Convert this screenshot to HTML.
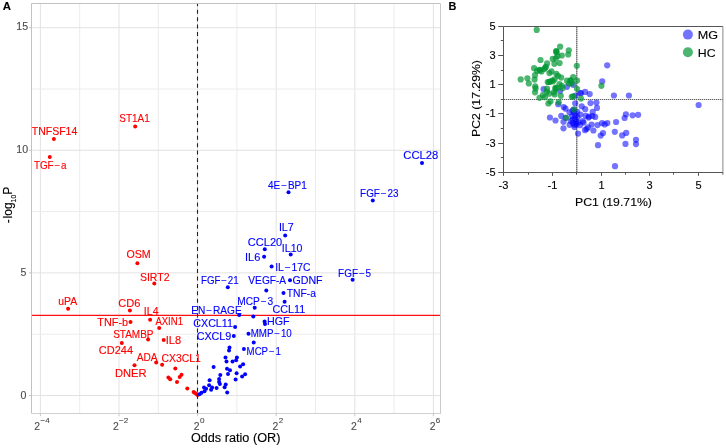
<!DOCTYPE html>
<html><head><meta charset="utf-8"><style>
html,body{margin:0;padding:0;background:#fff;width:726px;height:448px;overflow:hidden}
svg text{font-family:"Liberation Sans", sans-serif;stroke-width:0.12px}
svg{will-change:transform}
</style></head><body style="position:relative">
<svg width="726" height="448" viewBox="0 0 726 448" style="position:absolute;left:0;top:0">
<rect width="726" height="448" fill="#fff"/>
<line x1="40.40" y1="3.5" x2="40.40" y2="413.5" stroke="#e2e2e2" stroke-width="1"/>
<line x1="79.70" y1="3.5" x2="79.70" y2="413.5" stroke="#ececec" stroke-width="1"/>
<line x1="119.00" y1="3.5" x2="119.00" y2="413.5" stroke="#e2e2e2" stroke-width="1"/>
<line x1="158.30" y1="3.5" x2="158.30" y2="413.5" stroke="#ececec" stroke-width="1"/>
<line x1="197.60" y1="3.5" x2="197.60" y2="413.5" stroke="#e2e2e2" stroke-width="1"/>
<line x1="236.90" y1="3.5" x2="236.90" y2="413.5" stroke="#ececec" stroke-width="1"/>
<line x1="276.20" y1="3.5" x2="276.20" y2="413.5" stroke="#e2e2e2" stroke-width="1"/>
<line x1="315.50" y1="3.5" x2="315.50" y2="413.5" stroke="#ececec" stroke-width="1"/>
<line x1="354.80" y1="3.5" x2="354.80" y2="413.5" stroke="#e2e2e2" stroke-width="1"/>
<line x1="394.10" y1="3.5" x2="394.10" y2="413.5" stroke="#ececec" stroke-width="1"/>
<line x1="433.40" y1="3.5" x2="433.40" y2="413.5" stroke="#e2e2e2" stroke-width="1"/>
<line x1="31.5" y1="395.50" x2="440.5" y2="395.50" stroke="#e2e2e2" stroke-width="1"/>
<line x1="31.5" y1="334.20" x2="440.5" y2="334.20" stroke="#ececec" stroke-width="1"/>
<line x1="31.5" y1="272.90" x2="440.5" y2="272.90" stroke="#e2e2e2" stroke-width="1"/>
<line x1="31.5" y1="211.60" x2="440.5" y2="211.60" stroke="#ececec" stroke-width="1"/>
<line x1="31.5" y1="150.30" x2="440.5" y2="150.30" stroke="#e2e2e2" stroke-width="1"/>
<line x1="31.5" y1="89.00" x2="440.5" y2="89.00" stroke="#ececec" stroke-width="1"/>
<line x1="31.5" y1="27.70" x2="440.5" y2="27.70" stroke="#e2e2e2" stroke-width="1"/>
<line x1="31.5" y1="315.45" x2="440.5" y2="315.45" stroke="#ff1010" stroke-width="1.3"/>
<circle cx="53.9" cy="138.9" r="2.0" fill="#ff0000"/>
<circle cx="49.8" cy="157.1" r="2.0" fill="#ff0000"/>
<circle cx="135.2" cy="126.5" r="2.0" fill="#ff0000"/>
<circle cx="137.4" cy="263.2" r="2.0" fill="#ff0000"/>
<circle cx="154.3" cy="283.6" r="2.0" fill="#ff0000"/>
<circle cx="68.1" cy="308.8" r="2.0" fill="#ff0000"/>
<circle cx="129.9" cy="310.4" r="2.0" fill="#ff0000"/>
<circle cx="130.5" cy="321.9" r="2.0" fill="#ff0000"/>
<circle cx="150.1" cy="319.8" r="2.0" fill="#ff0000"/>
<circle cx="159.2" cy="328.1" r="2.0" fill="#ff0000"/>
<circle cx="148.1" cy="339.4" r="2.0" fill="#ff0000"/>
<circle cx="163.7" cy="339.9" r="2.0" fill="#ff0000"/>
<circle cx="121.8" cy="343" r="2.0" fill="#ff0000"/>
<circle cx="134.5" cy="365.3" r="2.0" fill="#ff0000"/>
<circle cx="156.2" cy="362.6" r="2.0" fill="#ff0000"/>
<circle cx="162.1" cy="364.8" r="2.0" fill="#ff0000"/>
<circle cx="175.3" cy="368.5" r="2.0" fill="#ff0000"/>
<circle cx="181.5" cy="374.7" r="2.0" fill="#ff0000"/>
<circle cx="179.7" cy="377" r="2.0" fill="#ff0000"/>
<circle cx="168.4" cy="377.4" r="2.0" fill="#ff0000"/>
<circle cx="170.2" cy="379.2" r="2.0" fill="#ff0000"/>
<circle cx="177" cy="382.1" r="2.0" fill="#ff0000"/>
<circle cx="187.3" cy="388.6" r="2.0" fill="#ff0000"/>
<circle cx="193.6" cy="392.1" r="2.0" fill="#ff0000"/>
<circle cx="195" cy="393" r="2.0" fill="#ff0000"/>
<circle cx="196.5" cy="394" r="2.0" fill="#ff0000"/>
<circle cx="197.5" cy="395" r="2.0" fill="#ff0000"/>
<circle cx="422" cy="162.9" r="2.0" fill="#0000ff"/>
<circle cx="372.8" cy="200.4" r="2.0" fill="#0000ff"/>
<circle cx="288.5" cy="192.3" r="2.0" fill="#0000ff"/>
<circle cx="285.2" cy="235.5" r="2.0" fill="#0000ff"/>
<circle cx="264.8" cy="249.3" r="2.0" fill="#0000ff"/>
<circle cx="264.1" cy="256.8" r="2.0" fill="#0000ff"/>
<circle cx="290.7" cy="254.4" r="2.0" fill="#0000ff"/>
<circle cx="271.6" cy="266.5" r="2.0" fill="#0000ff"/>
<circle cx="352.6" cy="279.8" r="2.0" fill="#0000ff"/>
<circle cx="227.8" cy="287.2" r="2.0" fill="#0000ff"/>
<circle cx="290" cy="280.3" r="2.0" fill="#0000ff"/>
<circle cx="266.3" cy="290.5" r="2.0" fill="#0000ff"/>
<circle cx="283.5" cy="293.1" r="2.0" fill="#0000ff"/>
<circle cx="284.6" cy="301.8" r="2.0" fill="#0000ff"/>
<circle cx="254.7" cy="307.7" r="2.0" fill="#0000ff"/>
<circle cx="239.2" cy="315.1" r="2.0" fill="#0000ff"/>
<circle cx="253.3" cy="316.4" r="2.0" fill="#0000ff"/>
<circle cx="264.6" cy="321.6" r="2.0" fill="#0000ff"/>
<circle cx="265" cy="324" r="2.0" fill="#0000ff"/>
<circle cx="235.1" cy="326.9" r="2.0" fill="#0000ff"/>
<circle cx="233.8" cy="336" r="2.0" fill="#0000ff"/>
<circle cx="248.5" cy="333.7" r="2.0" fill="#0000ff"/>
<circle cx="253.7" cy="342.5" r="2.0" fill="#0000ff"/>
<circle cx="243.9" cy="349.1" r="2.0" fill="#0000ff"/>
<circle cx="229.5" cy="347.6" r="2.0" fill="#0000ff"/>
<circle cx="229" cy="350.6" r="2.0" fill="#0000ff"/>
<circle cx="236.9" cy="357.6" r="2.0" fill="#0000ff"/>
<circle cx="236.1" cy="360.2" r="2.0" fill="#0000ff"/>
<circle cx="232.5" cy="361.4" r="2.0" fill="#0000ff"/>
<circle cx="226.5" cy="361.4" r="2.0" fill="#0000ff"/>
<circle cx="225.5" cy="357.6" r="2.0" fill="#0000ff"/>
<circle cx="243.1" cy="364.2" r="2.0" fill="#0000ff"/>
<circle cx="240.1" cy="366.4" r="2.0" fill="#0000ff"/>
<circle cx="227" cy="368.7" r="2.0" fill="#0000ff"/>
<circle cx="230" cy="370.2" r="2.0" fill="#0000ff"/>
<circle cx="236.6" cy="373.2" r="2.0" fill="#0000ff"/>
<circle cx="245.1" cy="374.2" r="2.0" fill="#0000ff"/>
<circle cx="213.6" cy="366.9" r="2.0" fill="#0000ff"/>
<circle cx="228" cy="373.9" r="2.0" fill="#0000ff"/>
<circle cx="220.3" cy="374.9" r="2.0" fill="#0000ff"/>
<circle cx="219.1" cy="379.1" r="2.0" fill="#0000ff"/>
<circle cx="209.6" cy="380.3" r="2.0" fill="#0000ff"/>
<circle cx="235.6" cy="379.5" r="2.0" fill="#0000ff"/>
<circle cx="242.1" cy="376.4" r="2.0" fill="#0000ff"/>
<circle cx="219.1" cy="381.9" r="2.0" fill="#0000ff"/>
<circle cx="219.9" cy="384.1" r="2.0" fill="#0000ff"/>
<circle cx="209.1" cy="385.2" r="2.0" fill="#0000ff"/>
<circle cx="225.7" cy="384.6" r="2.0" fill="#0000ff"/>
<circle cx="224.6" cy="387.2" r="2.0" fill="#0000ff"/>
<circle cx="212.1" cy="387.4" r="2.0" fill="#0000ff"/>
<circle cx="216.6" cy="388" r="2.0" fill="#0000ff"/>
<circle cx="211.1" cy="389.7" r="2.0" fill="#0000ff"/>
<circle cx="204" cy="387.4" r="2.0" fill="#0000ff"/>
<circle cx="206.1" cy="388.7" r="2.0" fill="#0000ff"/>
<circle cx="204.5" cy="391.2" r="2.0" fill="#0000ff"/>
<circle cx="201.5" cy="392.7" r="2.0" fill="#0000ff"/>
<circle cx="199.5" cy="394.2" r="2.0" fill="#0000ff"/>
<circle cx="227.2" cy="392.4" r="2.0" fill="#0000ff"/>
<path d="M197.5 413.9 V3.3" stroke="#222" stroke-width="1.1" stroke-dasharray="4 3.41"/>
<line x1="31.5" y1="3.5" x2="440.5" y2="3.5" stroke="#c2c2c2" stroke-width="1"/>
<line x1="31.5" y1="3.5" x2="31.5" y2="413.5" stroke="#c2c2c2" stroke-width="1"/>
<line x1="31.5" y1="413.5" x2="441.0" y2="413.5" stroke="#d0d0d0" stroke-width="1"/>
<line x1="440.5" y1="3.5" x2="440.5" y2="413.5" stroke="#cacaca" stroke-width="1"/>
<line x1="40.40" y1="413.5" x2="40.40" y2="416.3" stroke="#c8c8c8" stroke-width="1"/>
<line x1="119.00" y1="413.5" x2="119.00" y2="416.3" stroke="#c8c8c8" stroke-width="1"/>
<line x1="197.60" y1="413.5" x2="197.60" y2="416.3" stroke="#c8c8c8" stroke-width="1"/>
<line x1="276.20" y1="413.5" x2="276.20" y2="416.3" stroke="#c8c8c8" stroke-width="1"/>
<line x1="354.80" y1="413.5" x2="354.80" y2="416.3" stroke="#c8c8c8" stroke-width="1"/>
<line x1="433.40" y1="413.5" x2="433.40" y2="416.3" stroke="#c8c8c8" stroke-width="1"/>
<line x1="29.0" y1="395.50" x2="31.5" y2="395.50" stroke="#c2c2c2" stroke-width="1"/>
<line x1="29.0" y1="272.90" x2="31.5" y2="272.90" stroke="#c2c2c2" stroke-width="1"/>
<line x1="29.0" y1="150.30" x2="31.5" y2="150.30" stroke="#c2c2c2" stroke-width="1"/>
<line x1="29.0" y1="27.70" x2="31.5" y2="27.70" stroke="#c2c2c2" stroke-width="1"/>
<text x="31.76" y="135.10" fill="#ff0000" stroke="#ff0000" font-size="10.2" textLength="45.54" lengthAdjust="spacingAndGlyphs">TNFSF14</text>
<text x="33.88" y="168.90" fill="#ff0000" stroke="#ff0000" font-size="10.2" textLength="32.72" lengthAdjust="spacingAndGlyphs">TGF<tspan dx="0.9">−</tspan><tspan dx="0.9">a</tspan></text>
<text x="119.25" y="122.30" fill="#ff0000" stroke="#ff0000" font-size="10.2" textLength="30.44" lengthAdjust="spacingAndGlyphs">ST1A1</text>
<text x="126.40" y="258.20" fill="#ff0000" stroke="#ff0000" font-size="10.2" textLength="24.28" lengthAdjust="spacingAndGlyphs">OSM</text>
<text x="139.93" y="280.70" fill="#ff0000" stroke="#ff0000" font-size="10.2" textLength="29.60" lengthAdjust="spacingAndGlyphs">SIRT2</text>
<text x="58.15" y="304.70" fill="#ff0000" stroke="#ff0000" font-size="10.2" textLength="18.97" lengthAdjust="spacingAndGlyphs">uPA</text>
<text x="118.19" y="306.50" fill="#ff0000" stroke="#ff0000" font-size="10.2" textLength="22.20" lengthAdjust="spacingAndGlyphs">CD6</text>
<text x="143.83" y="314.70" fill="#ff0000" stroke="#ff0000" font-size="10.2" textLength="14.68" lengthAdjust="spacingAndGlyphs">IL4</text>
<text x="97.36" y="325.80" fill="#ff0000" stroke="#ff0000" font-size="10.2" textLength="30.70" lengthAdjust="spacingAndGlyphs">TNF-b</text>
<text x="155.38" y="325.30" fill="#ff0000" stroke="#ff0000" font-size="10.2" textLength="27.58" lengthAdjust="spacingAndGlyphs">AXIN1</text>
<text x="113.15" y="337.70" fill="#ff0000" stroke="#ff0000" font-size="10.2" textLength="40.36" lengthAdjust="spacingAndGlyphs">STAMBP</text>
<text x="165.78" y="344.40" fill="#ff0000" stroke="#ff0000" font-size="10.2" textLength="15.40" lengthAdjust="spacingAndGlyphs">IL8</text>
<text x="98.84" y="353.60" fill="#ff0000" stroke="#ff0000" font-size="10.2" textLength="34.18" lengthAdjust="spacingAndGlyphs">CD244</text>
<text x="136.68" y="361.20" fill="#ff0000" stroke="#ff0000" font-size="10.2" textLength="20.84" lengthAdjust="spacingAndGlyphs">ADA</text>
<text x="161.57" y="362.10" fill="#ff0000" stroke="#ff0000" font-size="10.2" textLength="39.34" lengthAdjust="spacingAndGlyphs">CX3CL1</text>
<text x="114.98" y="376.50" fill="#ff0000" stroke="#ff0000" font-size="10.2" textLength="31.63" lengthAdjust="spacingAndGlyphs">DNER</text>
<text x="403.33" y="159.20" fill="#0000ff" stroke="#0000ff" font-size="10.2" textLength="35.06" lengthAdjust="spacingAndGlyphs">CCL28</text>
<text x="268.07" y="189.10" fill="#0000ff" stroke="#0000ff" font-size="10.2" textLength="38.72" lengthAdjust="spacingAndGlyphs">4E<tspan dx="0.9">−</tspan><tspan dx="0.9">BP1</tspan></text>
<text x="360.09" y="196.90" fill="#0000ff" stroke="#0000ff" font-size="10.2" textLength="38.45" lengthAdjust="spacingAndGlyphs">FGF<tspan dx="0.9">−</tspan><tspan dx="0.9">23</tspan></text>
<text x="278.92" y="231.40" fill="#0000ff" stroke="#0000ff" font-size="10.2" textLength="14.82" lengthAdjust="spacingAndGlyphs">IL7</text>
<text x="247.84" y="245.70" fill="#0000ff" stroke="#0000ff" font-size="10.2" textLength="34.39" lengthAdjust="spacingAndGlyphs">CCL20</text>
<text x="281.82" y="252.00" fill="#0000ff" stroke="#0000ff" font-size="10.2" textLength="20.59" lengthAdjust="spacingAndGlyphs">IL10</text>
<text x="245.09" y="260.80" fill="#0000ff" stroke="#0000ff" font-size="10.2" textLength="15.19" lengthAdjust="spacingAndGlyphs">IL6</text>
<text x="275.15" y="270.90" fill="#0000ff" stroke="#0000ff" font-size="10.2" textLength="35.45" lengthAdjust="spacingAndGlyphs">IL<tspan dx="0.9">−</tspan><tspan dx="0.9">17C</tspan></text>
<text x="338.08" y="277.00" fill="#0000ff" stroke="#0000ff" font-size="10.2" textLength="33.04" lengthAdjust="spacingAndGlyphs">FGF<tspan dx="0.9">−</tspan><tspan dx="0.9">5</tspan></text>
<text x="201.00" y="283.90" fill="#0000ff" stroke="#0000ff" font-size="10.2" textLength="37.67" lengthAdjust="spacingAndGlyphs">FGF<tspan dx="0.9">−</tspan><tspan dx="0.9">21</tspan></text>
<text x="248.36" y="283.90" fill="#0000ff" stroke="#0000ff" font-size="10.2" textLength="37.76" lengthAdjust="spacingAndGlyphs">VEGF-A</text>
<text x="292.46" y="284.20" fill="#0000ff" stroke="#0000ff" font-size="10.2" textLength="30.16" lengthAdjust="spacingAndGlyphs">GDNF</text>
<text x="286.77" y="296.80" fill="#0000ff" stroke="#0000ff" font-size="10.2" textLength="29.23" lengthAdjust="spacingAndGlyphs">TNF-a</text>
<text x="237.27" y="305.30" fill="#0000ff" stroke="#0000ff" font-size="10.2" textLength="35.98" lengthAdjust="spacingAndGlyphs">MCP<tspan dx="0.9">−</tspan><tspan dx="0.9">3</tspan></text>
<text x="272.57" y="313.20" fill="#0000ff" stroke="#0000ff" font-size="10.2" textLength="32.64" lengthAdjust="spacingAndGlyphs">CCL11</text>
<text x="191.17" y="313.70" fill="#0000ff" stroke="#0000ff" font-size="10.2" textLength="50.47" lengthAdjust="spacingAndGlyphs">EN<tspan dx="0.9">−</tspan><tspan dx="0.9">RAGE</tspan></text>
<text x="266.92" y="325.00" fill="#0000ff" stroke="#0000ff" font-size="10.2" textLength="22.61" lengthAdjust="spacingAndGlyphs">HGF</text>
<text x="193.27" y="326.70" fill="#0000ff" stroke="#0000ff" font-size="10.2" textLength="39.64" lengthAdjust="spacingAndGlyphs">CXCL11</text>
<text x="250.70" y="337.10" fill="#0000ff" stroke="#0000ff" font-size="10.2" textLength="41.08" lengthAdjust="spacingAndGlyphs">MMP<tspan dx="0.9">−</tspan><tspan dx="0.9">10</tspan></text>
<text x="196.65" y="339.70" fill="#0000ff" stroke="#0000ff" font-size="10.2" textLength="34.66" lengthAdjust="spacingAndGlyphs">CXCL9</text>
<text x="246.61" y="355.00" fill="#0000ff" stroke="#0000ff" font-size="10.2" textLength="34.16" lengthAdjust="spacingAndGlyphs">MCP<tspan dx="0.9">−</tspan><tspan dx="0.9">1</tspan></text>
<text x="26.50" y="399.25" fill="#4d4d4d" stroke="#4d4d4d" font-size="10.6" text-anchor="end">0</text>
<text x="26.50" y="275.75" fill="#4d4d4d" stroke="#4d4d4d" font-size="10.6" text-anchor="end">5</text>
<text x="28.10" y="153.15" fill="#4d4d4d" stroke="#4d4d4d" font-size="10.6" text-anchor="end">10</text>
<text x="28.10" y="30.25" fill="#4d4d4d" stroke="#4d4d4d" font-size="10.6" text-anchor="end">15</text>
<text x="42.00" y="429.9" fill="#4d4d4d" stroke="#4d4d4d" font-size="10.4" text-anchor="middle">2<tspan dx="0.4" dy="-7.3" font-size="8.1">−4</tspan></text>
<text x="120.60" y="429.9" fill="#4d4d4d" stroke="#4d4d4d" font-size="10.4" text-anchor="middle">2<tspan dx="0.4" dy="-7.3" font-size="8.1">−2</tspan></text>
<text x="199.20" y="429.9" fill="#4d4d4d" stroke="#4d4d4d" font-size="10.4" text-anchor="middle">2<tspan dx="0.4" dy="-7.3" font-size="8.1">0</tspan></text>
<text x="277.80" y="429.9" fill="#4d4d4d" stroke="#4d4d4d" font-size="10.4" text-anchor="middle">2<tspan dx="0.4" dy="-7.3" font-size="8.1">2</tspan></text>
<text x="356.40" y="429.9" fill="#4d4d4d" stroke="#4d4d4d" font-size="10.4" text-anchor="middle">2<tspan dx="0.4" dy="-7.3" font-size="8.1">4</tspan></text>
<text x="435.00" y="429.9" fill="#4d4d4d" stroke="#4d4d4d" font-size="10.4" text-anchor="middle">2<tspan dx="0.4" dy="-7.3" font-size="8.1">6</tspan></text>
<text x="190.90" y="442.2" fill="#000" stroke="#000" font-size="12" textLength="89.49" lengthAdjust="spacingAndGlyphs">Odds ratio (OR)</text>
<text transform="translate(11.5,223.2) rotate(-90)" fill="#000" stroke="#000" font-size="12">-<tspan dx="0.8">log</tspan><tspan dy="4.3" font-size="6.8">10</tspan><tspan dy="-4.3">P</tspan></text>
<text x="2.8" y="9.7" fill="#000" stroke="#000" font-size="11.4" font-weight="bold">A</text>
<text x="448.5" y="9.7" fill="#000" stroke="#000" font-size="10.9" font-weight="bold">B</text>
<line x1="504" y1="99.5" x2="722.9" y2="99.5" stroke="#cdcdcd" stroke-width="1"/>
<line x1="504" y1="99.5" x2="722.9" y2="99.5" stroke="#626262" stroke-width="1" stroke-dasharray="1 1"/>
<line x1="576.7" y1="172" x2="576.7" y2="26.5" stroke="#a8a8a8" stroke-width="1.3"/>
<line x1="576.7" y1="172" x2="576.7" y2="26.5" stroke="#777" stroke-width="1.3" stroke-dasharray="1 1"/>
<circle cx="607.2" cy="65.3" r="3.1" fill="rgba(0,0,255,0.55)"/>
<circle cx="602.2" cy="81.4" r="3.1" fill="rgba(0,0,255,0.55)"/>
<circle cx="613.9" cy="95.5" r="3.1" fill="rgba(0,0,255,0.55)"/>
<circle cx="628.9" cy="95.5" r="3.1" fill="rgba(0,0,255,0.55)"/>
<circle cx="581.0" cy="93.2" r="3.1" fill="rgba(0,0,255,0.55)"/>
<circle cx="585.1" cy="91.9" r="3.1" fill="rgba(0,0,255,0.55)"/>
<circle cx="589.7" cy="94.1" r="3.1" fill="rgba(0,0,255,0.55)"/>
<circle cx="625.9" cy="114.3" r="3.1" fill="rgba(0,0,255,0.55)"/>
<circle cx="632.6" cy="115.3" r="3.1" fill="rgba(0,0,255,0.55)"/>
<circle cx="638.1" cy="114.8" r="3.1" fill="rgba(0,0,255,0.55)"/>
<circle cx="624.6" cy="118.0" r="3.1" fill="rgba(0,0,255,0.55)"/>
<circle cx="602.1" cy="123.1" r="3.1" fill="rgba(0,0,255,0.55)"/>
<circle cx="604.7" cy="124.4" r="3.1" fill="rgba(0,0,255,0.55)"/>
<circle cx="607.4" cy="123.1" r="3.1" fill="rgba(0,0,255,0.55)"/>
<circle cx="616.1" cy="122.0" r="3.1" fill="rgba(0,0,255,0.55)"/>
<circle cx="614.8" cy="131.8" r="3.1" fill="rgba(0,0,255,0.55)"/>
<circle cx="603.0" cy="133.1" r="3.1" fill="rgba(0,0,255,0.55)"/>
<circle cx="600.7" cy="135.6" r="3.1" fill="rgba(0,0,255,0.55)"/>
<circle cx="622.2" cy="135.4" r="3.1" fill="rgba(0,0,255,0.55)"/>
<circle cx="626.2" cy="132.9" r="3.1" fill="rgba(0,0,255,0.55)"/>
<circle cx="598.0" cy="145.2" r="3.1" fill="rgba(0,0,255,0.55)"/>
<circle cx="625.5" cy="143.9" r="3.1" fill="rgba(0,0,255,0.55)"/>
<circle cx="636.0" cy="139.8" r="3.1" fill="rgba(0,0,255,0.55)"/>
<circle cx="636.0" cy="144.1" r="3.1" fill="rgba(0,0,255,0.55)"/>
<circle cx="615.0" cy="166.2" r="3.1" fill="rgba(0,0,255,0.55)"/>
<circle cx="698.6" cy="105.0" r="3.1" fill="rgba(0,0,255,0.55)"/>
<circle cx="543.6" cy="89.2" r="3.1" fill="rgba(0,0,255,0.55)"/>
<circle cx="560.1" cy="91.0" r="3.1" fill="rgba(0,0,255,0.55)"/>
<circle cx="567.0" cy="86.8" r="3.1" fill="rgba(0,0,255,0.55)"/>
<circle cx="573.2" cy="84.8" r="3.1" fill="rgba(0,0,255,0.55)"/>
<circle cx="580.1" cy="93.0" r="3.1" fill="rgba(0,0,255,0.55)"/>
<circle cx="575.4" cy="95.7" r="3.1" fill="rgba(0,0,255,0.55)"/>
<circle cx="558.2" cy="104.2" r="3.1" fill="rgba(0,0,255,0.55)"/>
<circle cx="563.7" cy="107.0" r="3.1" fill="rgba(0,0,255,0.55)"/>
<circle cx="565.5" cy="108.7" r="3.1" fill="rgba(0,0,255,0.55)"/>
<circle cx="569.5" cy="112.3" r="3.1" fill="rgba(0,0,255,0.55)"/>
<circle cx="561.3" cy="115.9" r="3.1" fill="rgba(0,0,255,0.55)"/>
<circle cx="555.5" cy="120.5" r="3.1" fill="rgba(0,0,255,0.55)"/>
<circle cx="549.9" cy="117.5" r="3.1" fill="rgba(0,0,255,0.55)"/>
<circle cx="563.5" cy="121.8" r="3.1" fill="rgba(0,0,255,0.55)"/>
<circle cx="563.5" cy="128.3" r="3.1" fill="rgba(0,0,255,0.55)"/>
<circle cx="565.8" cy="117.8" r="3.1" fill="rgba(0,0,255,0.55)"/>
<circle cx="569.6" cy="124.8" r="3.1" fill="rgba(0,0,255,0.55)"/>
<circle cx="572.5" cy="119.5" r="3.1" fill="rgba(0,0,255,0.55)"/>
<circle cx="573.0" cy="123.0" r="3.1" fill="rgba(0,0,255,0.55)"/>
<circle cx="574.5" cy="127.1" r="3.1" fill="rgba(0,0,255,0.55)"/>
<circle cx="574.0" cy="112.6" r="3.1" fill="rgba(0,0,255,0.55)"/>
<circle cx="575.2" cy="103.3" r="3.1" fill="rgba(0,0,255,0.55)"/>
<circle cx="573.7" cy="109.5" r="3.1" fill="rgba(0,0,255,0.55)"/>
<circle cx="577.2" cy="111.8" r="3.1" fill="rgba(0,0,255,0.55)"/>
<circle cx="575.0" cy="115.7" r="3.1" fill="rgba(0,0,255,0.55)"/>
<circle cx="580.4" cy="114.6" r="3.1" fill="rgba(0,0,255,0.55)"/>
<circle cx="581.7" cy="106.3" r="3.1" fill="rgba(0,0,255,0.55)"/>
<circle cx="585.2" cy="109.2" r="3.1" fill="rgba(0,0,255,0.55)"/>
<circle cx="590.5" cy="103.1" r="3.1" fill="rgba(0,0,255,0.55)"/>
<circle cx="596.4" cy="102.6" r="3.1" fill="rgba(0,0,255,0.55)"/>
<circle cx="597.0" cy="107.9" r="3.1" fill="rgba(0,0,255,0.55)"/>
<circle cx="592.7" cy="111.9" r="3.1" fill="rgba(0,0,255,0.55)"/>
<circle cx="585.7" cy="115.8" r="3.1" fill="rgba(0,0,255,0.55)"/>
<circle cx="589.0" cy="116.6" r="3.1" fill="rgba(0,0,255,0.55)"/>
<circle cx="592.4" cy="116.0" r="3.1" fill="rgba(0,0,255,0.55)"/>
<circle cx="595.2" cy="116.9" r="3.1" fill="rgba(0,0,255,0.55)"/>
<circle cx="582.7" cy="121.2" r="3.1" fill="rgba(0,0,255,0.55)"/>
<circle cx="576.3" cy="121.5" r="3.1" fill="rgba(0,0,255,0.55)"/>
<circle cx="576.3" cy="124.2" r="3.1" fill="rgba(0,0,255,0.55)"/>
<circle cx="580.0" cy="125.2" r="3.1" fill="rgba(0,0,255,0.55)"/>
<circle cx="591.6" cy="124.6" r="3.1" fill="rgba(0,0,255,0.55)"/>
<circle cx="588.0" cy="127.4" r="3.1" fill="rgba(0,0,255,0.55)"/>
<circle cx="585.0" cy="130.2" r="3.1" fill="rgba(0,0,255,0.55)"/>
<circle cx="593.4" cy="130.5" r="3.1" fill="rgba(0,0,255,0.55)"/>
<circle cx="597.5" cy="125.1" r="3.1" fill="rgba(0,0,255,0.55)"/>
<circle cx="578.0" cy="133.6" r="3.1" fill="rgba(0,0,255,0.55)"/>
<circle cx="572.0" cy="116.0" r="3.1" fill="rgba(0,0,255,0.55)"/>
<circle cx="575.2" cy="118.8" r="3.1" fill="rgba(0,0,255,0.55)"/>
<circle cx="577.5" cy="117.2" r="3.1" fill="rgba(0,0,255,0.55)"/>
<circle cx="570.8" cy="121.0" r="3.1" fill="rgba(0,0,255,0.55)"/>
<circle cx="574.2" cy="124.8" r="3.1" fill="rgba(0,0,255,0.55)"/>
<circle cx="586.5" cy="129.0" r="3.1" fill="rgba(0,0,255,0.55)"/>
<circle cx="572.5" cy="110.5" r="3.1" fill="rgba(0,0,255,0.55)"/>
<circle cx="578.3" cy="122.5" r="3.1" fill="rgba(0,0,255,0.55)"/>
<circle cx="588.5" cy="117.6" r="3.1" fill="rgba(0,0,255,0.55)"/>
<circle cx="583.6" cy="122.6" r="3.1" fill="rgba(0,0,255,0.55)"/>
<circle cx="536.7" cy="29.9" r="3.1" fill="rgba(0,150,50,0.70)"/>
<circle cx="560.1" cy="46.7" r="3.1" fill="rgba(0,150,50,0.70)"/>
<circle cx="556.2" cy="51.0" r="3.1" fill="rgba(0,150,50,0.70)"/>
<circle cx="556.5" cy="52.6" r="3.1" fill="rgba(0,150,50,0.70)"/>
<circle cx="568.8" cy="50.3" r="3.1" fill="rgba(0,150,50,0.70)"/>
<circle cx="568.2" cy="54.5" r="3.1" fill="rgba(0,150,50,0.70)"/>
<circle cx="561.8" cy="55.5" r="3.1" fill="rgba(0,150,50,0.70)"/>
<circle cx="557.5" cy="56.2" r="3.1" fill="rgba(0,150,50,0.70)"/>
<circle cx="552.7" cy="58.9" r="3.1" fill="rgba(0,150,50,0.70)"/>
<circle cx="555.8" cy="58.3" r="3.1" fill="rgba(0,150,50,0.70)"/>
<circle cx="554.4" cy="63.8" r="3.1" fill="rgba(0,150,50,0.70)"/>
<circle cx="559.6" cy="63.1" r="3.1" fill="rgba(0,150,50,0.70)"/>
<circle cx="540.5" cy="60.0" r="3.1" fill="rgba(0,150,50,0.70)"/>
<circle cx="547.1" cy="63.4" r="3.1" fill="rgba(0,150,50,0.70)"/>
<circle cx="545.8" cy="66.9" r="3.1" fill="rgba(0,150,50,0.70)"/>
<circle cx="534.1" cy="68.2" r="3.1" fill="rgba(0,150,50,0.70)"/>
<circle cx="539.7" cy="69.8" r="3.1" fill="rgba(0,150,50,0.70)"/>
<circle cx="576.8" cy="65.8" r="3.1" fill="rgba(0,150,50,0.70)"/>
<circle cx="537.0" cy="70.9" r="3.1" fill="rgba(0,150,50,0.70)"/>
<circle cx="541.5" cy="71.4" r="3.1" fill="rgba(0,150,50,0.70)"/>
<circle cx="544.3" cy="69.0" r="3.1" fill="rgba(0,150,50,0.70)"/>
<circle cx="549.4" cy="73.1" r="3.1" fill="rgba(0,150,50,0.70)"/>
<circle cx="551.5" cy="71.4" r="3.1" fill="rgba(0,150,50,0.70)"/>
<circle cx="556.3" cy="73.8" r="3.1" fill="rgba(0,150,50,0.70)"/>
<circle cx="558.0" cy="75.8" r="3.1" fill="rgba(0,150,50,0.70)"/>
<circle cx="561.2" cy="77.6" r="3.1" fill="rgba(0,150,50,0.70)"/>
<circle cx="535.0" cy="75.2" r="3.1" fill="rgba(0,150,50,0.70)"/>
<circle cx="534.6" cy="79.6" r="3.1" fill="rgba(0,150,50,0.70)"/>
<circle cx="527.4" cy="78.3" r="3.1" fill="rgba(0,150,50,0.70)"/>
<circle cx="520.7" cy="79.4" r="3.1" fill="rgba(0,150,50,0.70)"/>
<circle cx="528.8" cy="83.4" r="3.1" fill="rgba(0,150,50,0.70)"/>
<circle cx="547.7" cy="82.0" r="3.1" fill="rgba(0,150,50,0.70)"/>
<circle cx="550.1" cy="81.7" r="3.1" fill="rgba(0,150,50,0.70)"/>
<circle cx="552.9" cy="81.3" r="3.1" fill="rgba(0,150,50,0.70)"/>
<circle cx="554.6" cy="79.3" r="3.1" fill="rgba(0,150,50,0.70)"/>
<circle cx="535.2" cy="86.4" r="3.1" fill="rgba(0,150,50,0.70)"/>
<circle cx="535.6" cy="88.4" r="3.1" fill="rgba(0,150,50,0.70)"/>
<circle cx="559.4" cy="84.1" r="3.1" fill="rgba(0,150,50,0.70)"/>
<circle cx="561.8" cy="85.8" r="3.1" fill="rgba(0,150,50,0.70)"/>
<circle cx="555.6" cy="87.5" r="3.1" fill="rgba(0,150,50,0.70)"/>
<circle cx="567.0" cy="80.7" r="3.1" fill="rgba(0,150,50,0.70)"/>
<circle cx="570.8" cy="80.7" r="3.1" fill="rgba(0,150,50,0.70)"/>
<circle cx="573.2" cy="77.2" r="3.1" fill="rgba(0,150,50,0.70)"/>
<circle cx="547.0" cy="88.7" r="3.1" fill="rgba(0,150,50,0.70)"/>
<circle cx="535.0" cy="92.3" r="3.1" fill="rgba(0,150,50,0.70)"/>
<circle cx="547.0" cy="91.6" r="3.1" fill="rgba(0,150,50,0.70)"/>
<circle cx="549.1" cy="93.7" r="3.1" fill="rgba(0,150,50,0.70)"/>
<circle cx="553.9" cy="92.3" r="3.1" fill="rgba(0,150,50,0.70)"/>
<circle cx="554.6" cy="94.4" r="3.1" fill="rgba(0,150,50,0.70)"/>
<circle cx="539.5" cy="97.8" r="3.1" fill="rgba(0,150,50,0.70)"/>
<circle cx="542.9" cy="95.1" r="3.1" fill="rgba(0,150,50,0.70)"/>
<circle cx="545.0" cy="97.2" r="3.1" fill="rgba(0,150,50,0.70)"/>
<circle cx="548.4" cy="103.5" r="3.1" fill="rgba(0,150,50,0.70)"/>
<circle cx="550.5" cy="101.3" r="3.1" fill="rgba(0,150,50,0.70)"/>
<circle cx="555.3" cy="88.9" r="3.1" fill="rgba(0,150,50,0.70)"/>
<circle cx="556.7" cy="88.2" r="3.1" fill="rgba(0,150,50,0.70)"/>
<circle cx="562.5" cy="88.2" r="3.1" fill="rgba(0,150,50,0.70)"/>
<circle cx="560.8" cy="95.8" r="3.1" fill="rgba(0,150,50,0.70)"/>
<circle cx="558.7" cy="102.2" r="3.1" fill="rgba(0,150,50,0.70)"/>
<circle cx="571.8" cy="96.8" r="3.1" fill="rgba(0,150,50,0.70)"/>
<circle cx="569.1" cy="83.4" r="3.1" fill="rgba(0,150,50,0.70)"/>
<circle cx="571.8" cy="83.4" r="3.1" fill="rgba(0,150,50,0.70)"/>
<circle cx="573.9" cy="109.5" r="3.1" fill="rgba(0,150,50,0.70)"/>
<circle cx="565.9" cy="117.8" r="3.1" fill="rgba(0,150,50,0.70)"/>
<circle cx="581.0" cy="98.6" r="3.1" fill="rgba(0,150,50,0.70)"/>
<circle cx="573.0" cy="96.3" r="3.1" fill="rgba(0,150,50,0.70)"/>
<circle cx="577.0" cy="80.5" r="3.1" fill="rgba(0,150,50,0.70)"/>
<circle cx="577.0" cy="88.8" r="3.1" fill="rgba(0,150,50,0.70)"/>
<circle cx="601.4" cy="85.8" r="3.1" fill="rgba(0,150,50,0.70)"/>
<circle cx="539.8" cy="70.2" r="3.1" fill="rgba(0,150,50,0.70)"/>
<circle cx="545.3" cy="67.6" r="3.1" fill="rgba(0,150,50,0.70)"/>
<circle cx="549.0" cy="82.0" r="3.1" fill="rgba(0,150,50,0.70)"/>
<circle cx="552.0" cy="80.6" r="3.1" fill="rgba(0,150,50,0.70)"/>
<circle cx="556.4" cy="51.6" r="3.1" fill="rgba(0,150,50,0.70)"/>
<circle cx="570.6" cy="80.4" r="3.1" fill="rgba(0,150,50,0.70)"/>
<line x1="503.5" y1="26.5" x2="722.9" y2="26.5" stroke="#555555" stroke-width="1"/>
<line x1="722.9" y1="26.5" x2="722.9" y2="172.5" stroke="#888" stroke-width="1"/>
<line x1="503.5" y1="26.5" x2="503.5" y2="173.0" stroke="#555555" stroke-width="1"/>
<line x1="503.5" y1="172.5" x2="722.9" y2="172.5" stroke="#555555" stroke-width="1"/>
<line x1="498.2" y1="172.50" x2="503.5" y2="172.50" stroke="#555555" stroke-width="1"/>
<text x="495.6" y="176.40" fill="#000" stroke="#000" font-size="11" text-anchor="end">-5</text>
<line x1="500.8" y1="157.50" x2="503.5" y2="157.50" stroke="#555555" stroke-width="1"/>
<line x1="498.2" y1="143.50" x2="503.5" y2="143.50" stroke="#555555" stroke-width="1"/>
<text x="495.6" y="147.40" fill="#000" stroke="#000" font-size="11" text-anchor="end">-3</text>
<line x1="500.8" y1="128.50" x2="503.5" y2="128.50" stroke="#555555" stroke-width="1"/>
<line x1="498.2" y1="113.50" x2="503.5" y2="113.50" stroke="#555555" stroke-width="1"/>
<text x="495.6" y="117.40" fill="#000" stroke="#000" font-size="11" text-anchor="end">-1</text>
<line x1="500.8" y1="99.50" x2="503.5" y2="99.50" stroke="#555555" stroke-width="1"/>
<line x1="498.2" y1="84.50" x2="503.5" y2="84.50" stroke="#555555" stroke-width="1"/>
<text x="495.6" y="88.40" fill="#000" stroke="#000" font-size="11" text-anchor="end">1</text>
<line x1="500.8" y1="70.50" x2="503.5" y2="70.50" stroke="#555555" stroke-width="1"/>
<line x1="498.2" y1="55.50" x2="503.5" y2="55.50" stroke="#555555" stroke-width="1"/>
<text x="495.6" y="59.40" fill="#000" stroke="#000" font-size="11" text-anchor="end">3</text>
<line x1="500.8" y1="40.50" x2="503.5" y2="40.50" stroke="#555555" stroke-width="1"/>
<line x1="498.2" y1="26.50" x2="503.5" y2="26.50" stroke="#555555" stroke-width="1"/>
<text x="495.6" y="30.40" fill="#000" stroke="#000" font-size="11" text-anchor="end">5</text>
<line x1="503.50" y1="172.5" x2="503.50" y2="175.9" stroke="#555555" stroke-width="1"/>
<text x="503.50" y="188.8" fill="#000" stroke="#000" font-size="11" text-anchor="middle">-3</text>
<line x1="528.50" y1="172.5" x2="528.50" y2="174.7" stroke="#555555" stroke-width="1"/>
<line x1="552.50" y1="172.5" x2="552.50" y2="175.9" stroke="#555555" stroke-width="1"/>
<text x="552.50" y="188.8" fill="#000" stroke="#000" font-size="11" text-anchor="middle">-1</text>
<line x1="576.50" y1="172.5" x2="576.50" y2="174.7" stroke="#555555" stroke-width="1"/>
<line x1="601.50" y1="172.5" x2="601.50" y2="175.9" stroke="#555555" stroke-width="1"/>
<text x="601.50" y="188.8" fill="#000" stroke="#000" font-size="11" text-anchor="middle">1</text>
<line x1="625.50" y1="172.5" x2="625.50" y2="174.7" stroke="#555555" stroke-width="1"/>
<line x1="649.50" y1="172.5" x2="649.50" y2="175.9" stroke="#555555" stroke-width="1"/>
<text x="649.50" y="188.8" fill="#000" stroke="#000" font-size="11" text-anchor="middle">3</text>
<line x1="673.50" y1="172.5" x2="673.50" y2="174.7" stroke="#555555" stroke-width="1"/>
<line x1="698.50" y1="172.5" x2="698.50" y2="175.9" stroke="#555555" stroke-width="1"/>
<text x="698.50" y="188.8" fill="#000" stroke="#000" font-size="11" text-anchor="middle">5</text>
<line x1="722.90" y1="172.5" x2="722.90" y2="174.7" stroke="#555555" stroke-width="1"/>
<text x="574.99" y="206.1" fill="#000" stroke="#000" font-size="11.8" textLength="76.97" lengthAdjust="spacingAndGlyphs">PC1 (19.71%)</text>
<text transform="translate(479.8,136.90) rotate(-90)" fill="#000" stroke="#000" font-size="11.8" textLength="76.76" lengthAdjust="spacingAndGlyphs">PC2 (17.29%)</text>
<circle cx="687.9" cy="34.6" r="5" fill="rgba(0,0,255,0.55)"/>
<circle cx="687.9" cy="52.2" r="5" fill="rgba(0,150,50,0.70)"/>
<text x="697.87" y="39" fill="#000" stroke="#000" font-size="11.5" textLength="20.27" lengthAdjust="spacingAndGlyphs">MG</text>
<text x="697.89" y="56.6" fill="#000" stroke="#000" font-size="11.5" textLength="17.78" lengthAdjust="spacingAndGlyphs">HC</text>
</svg>
</body></html>
